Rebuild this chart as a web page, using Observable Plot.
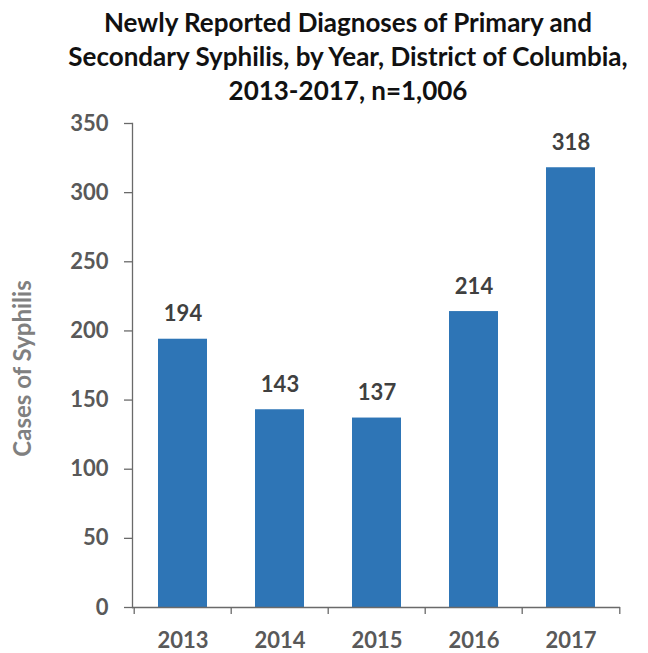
<!DOCTYPE html>
<html><head><meta charset="utf-8">
<script src="https://cdn.jsdelivr.net/npm/d3@7"></script>
<script src="https://cdn.jsdelivr.net/npm/@observablehq/plot@0.6"></script>
<style>
body{margin:0;background:#fff;font-family:Lato,sans-serif;}
#title{margin-left:48px;width:600px;padding-top:5px;height:103px;text-align:center;font:bold 26px/34px Lato,sans-serif;color:#111;white-space:nowrap}
#chart svg text{font-weight:bold}
</style></head><body>
<div id="title">Newly Reported Diagnoses of Primary and<br>Secondary Syphilis, by Year, District of Columbia,<br>2013-2017, n=1,006</div>
<div id="chart"></div>
<script>
const years = ["2013","2014","2015","2016","2017"];
const cases = [194, 143, 137, 214, 318];
const yTicks = [0, 50, 100, 150, 200, 250, 300, 350];
const yLabel = "Cases of Syphilis";

const data = years.map((year, i) => ({year, cases: cases[i]}));
const W = 648, H = 545, mL = 132, mR = 28, mT = 15, mB = 46;
const step = (W - mL - mR) / years.length;
const axisColor = "#6a6a6a";

const chart = Plot.plot({
  width: W, height: H,
  marginLeft: mL, marginRight: mR, marginTop: mT, marginBottom: mB,
  style: {fontFamily: "Lato, sans-serif", background: "#fff", overflow: "visible"},
  x: {domain: years, paddingInner: 0.5, paddingOuter: 0.25, axis: null},
  y: {domain: [0, 350], axis: null},
  marks: [
    Plot.barY(data, {x: "year", y: "cases", fill: "#2e75b6"}),
    Plot.ruleY([0], {stroke: axisColor, strokeWidth: 1.3}),
    Plot.frame({anchor: "left", stroke: axisColor, strokeWidth: 1.3}),
    Plot.ruleX(years, {x: d => d, dx: -step / 2, y1: 0, y2: -5, stroke: axisColor, strokeWidth: 1.3}),
    Plot.ruleX([years[years.length - 1]], {x: d => d, dx: step / 2, y1: 0, y2: -5, stroke: axisColor, strokeWidth: 1.3}),
    Plot.axisY({ticks: yTicks, tickSize: 8, tickPadding: 16, label: null, fontSize: 22, fill: "#595959", stroke: axisColor, strokeWidth: 1.3}),
    Plot.axisX({tickSize: 0, tickPadding: 25, label: null, fontSize: 22, fill: "#595959"}),
    Plot.text(data, {x: "year", y: "cases", text: d => String(d.cases), dy: -25, fontSize: 22, fill: "#404040"}),
    Plot.text([yLabel], {frameAnchor: "left", textAnchor: "middle", rotate: -90, dx: -109, dy: 3, fontSize: 24, fill: "#808080"})
  ]
});
document.getElementById("chart").appendChild(chart);
</script>
</body></html>
